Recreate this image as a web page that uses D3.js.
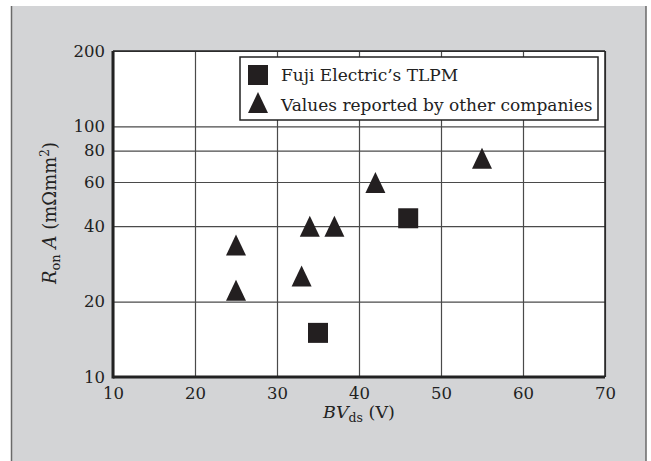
<!DOCTYPE html>
<html>
<head>
<meta charset="utf-8">
<script src="https://cdn.jsdelivr.net/npm/d3@7"></script>
<style>
  body { margin: 0; background: #fff; }
  svg { display: block; font-family: "DejaVu Serif", serif; }
</style>
</head>
<body>
<script>
// data
const fujiBV = [35, 46];
const fujiRon = [15, 43];
const otherBV = [25, 25, 33, 34, 37, 42, 55];
const otherRon = [33.6, 22.2, 25.3, 40, 40, 59.8, 74.6];
const xTicks = [10, 20, 30, 40, 50, 60, 70];
const yTicks = [10, 20, 40, 60, 80, 100, 200];
const legendLabels = ["Fuji Electric\u2019s TLPM", "Values reported by other companies"];

// constants
const width = 651;
const height = 461;
const plot = { left: 113, right: 605, top: 51, bottom: 377 };

const svg = d3.select('body').append('svg')
  .attr('width', width)
  .attr('height', height);

// gray panel
svg.append('rect')
  .attr('x', 11).attr('y', 6)
  .attr('width', 635).attr('height', height - 6)
  .attr('fill', '#d3d4d6');
svg.append('line')
  .attr('x1', 11.5).attr('x2', 11.5).attr('y1', 6).attr('y2', height)
  .attr('stroke', '#6a6a6a').attr('stroke-width', 1.5);
svg.append('line')
  .attr('x1', 646).attr('x2', 646).attr('y1', 6).attr('y2', height)
  .attr('stroke', '#6a6a6a').attr('stroke-width', 1.5);

const x = d3.scaleLinear().domain([10, 70]).range([plot.left, plot.right]);
const y = d3.scaleLog().domain([10, 200]).range([plot.bottom, plot.top]);

svg.append('rect')
  .attr('x', plot.left).attr('y', plot.top)
  .attr('width', plot.right - plot.left).attr('height', plot.bottom - plot.top)
  .attr('fill', '#fff');

// axes with grid lines
const xAxis = svg.append('g')
  .attr('transform', `translate(0,${plot.bottom})`)
  .call(d3.axisBottom(x).tickValues(xTicks).tickSize(-(plot.bottom - plot.top)).tickPadding(10).tickFormat(d3.format('d')));
const yAxis = svg.append('g')
  .attr('transform', `translate(${plot.left},0)`)
  .call(d3.axisLeft(y).tickValues(yTicks).tickSize(-(plot.right - plot.left)).tickPadding(8).tickFormat(d3.format('d')));

[xAxis, yAxis].forEach((g) => {
  g.select('.domain').remove();
  g.selectAll('.tick line').attr('stroke', '#4a4a4a').attr('stroke-width', 1.2);
  g.selectAll('.tick text')
    .attr('fill', '#222')
    .style('font-family', '"DejaVu Serif", serif')
    .style('font-size', '16.5px');
});

// frame
const frame = svg.append('g').attr('stroke', '#222').attr('fill', 'none');
frame.append('line').attr('x1', plot.left).attr('x2', plot.right).attr('y1', plot.top).attr('y2', plot.top).attr('stroke-width', 1.5);
frame.append('line').attr('x1', plot.right).attr('x2', plot.right).attr('y1', plot.top).attr('y2', plot.bottom).attr('stroke-width', 1.5);
frame.append('line').attr('x1', plot.left).attr('x2', plot.left).attr('y1', plot.top).attr('y2', plot.bottom + 1.5).attr('stroke-width', 3);
frame.append('line').attr('x1', plot.left).attr('x2', plot.right).attr('y1', plot.bottom).attr('y2', plot.bottom).attr('stroke-width', 3);

// markers
const triPath = 'M0,-10.5L10,10.5L-10,10.5Z';
const markColor = '#231f20';

svg.append('g').selectAll('path')
  .data(otherBV.map((v, i) => [v, otherRon[i]]))
  .join('path')
  .attr('d', triPath)
  .attr('transform', (d) => `translate(${x(d[0])},${y(d[1])})`)
  .attr('fill', markColor);

svg.append('g').selectAll('rect')
  .data(fujiBV.map((v, i) => [v, fujiRon[i]]))
  .join('rect')
  .attr('x', (d) => x(d[0]) - 10)
  .attr('y', (d) => y(d[1]) - 10)
  .attr('width', 20).attr('height', 20)
  .attr('fill', markColor);

// legend
const legend = svg.append('g');
legend.append('rect')
  .attr('x', 240).attr('y', 57).attr('width', 358).attr('height', 63)
  .attr('fill', '#fff').attr('stroke', '#222').attr('stroke-width', 1.5);
legend.append('rect')
  .attr('x', 248).attr('y', 65).attr('width', 20).attr('height', 20)
  .attr('fill', markColor);
legend.append('path')
  .attr('d', triPath)
  .attr('transform', 'translate(258,102.5)')
  .attr('fill', markColor);
legend.selectAll('text')
  .data(legendLabels)
  .join('text')
  .attr('x', 281)
  .attr('y', (d, i) => 81 + i * 29.5)
  .attr('fill', '#222')
  .style('font-size', '17px')
  .text((d) => d);

// axis titles
const xTitle = svg.append('text')
  .attr('x', (plot.left + plot.right) / 2)
  .attr('y', 418)
  .attr('text-anchor', 'middle')
  .attr('fill', '#222')
  .style('font-size', '17.5px');
xTitle.append('tspan').style('font-style', 'italic').text('BV');
xTitle.append('tspan').attr('dy', 4).style('font-size', '12.5px').text('ds');
xTitle.append('tspan').attr('dy', -4).text(' (V)');

const yTitle = svg.append('text')
  .attr('transform', 'translate(56,213) rotate(-90)')
  .attr('text-anchor', 'middle')
  .attr('fill', '#222')
  .style('font-size', '18px');
yTitle.append('tspan').style('font-style', 'italic').text('R');
yTitle.append('tspan').attr('dy', 4).style('font-size', '13px').text('on');
yTitle.append('tspan').attr('dy', -4).style('font-style', 'italic').text(' A');
yTitle.append('tspan').text(' (m\u03a9mm');
yTitle.append('tspan').attr('dy', -7).style('font-size', '12px').text('2');
yTitle.append('tspan').attr('dy', 7).text(')');
</script>
</body>
</html>
